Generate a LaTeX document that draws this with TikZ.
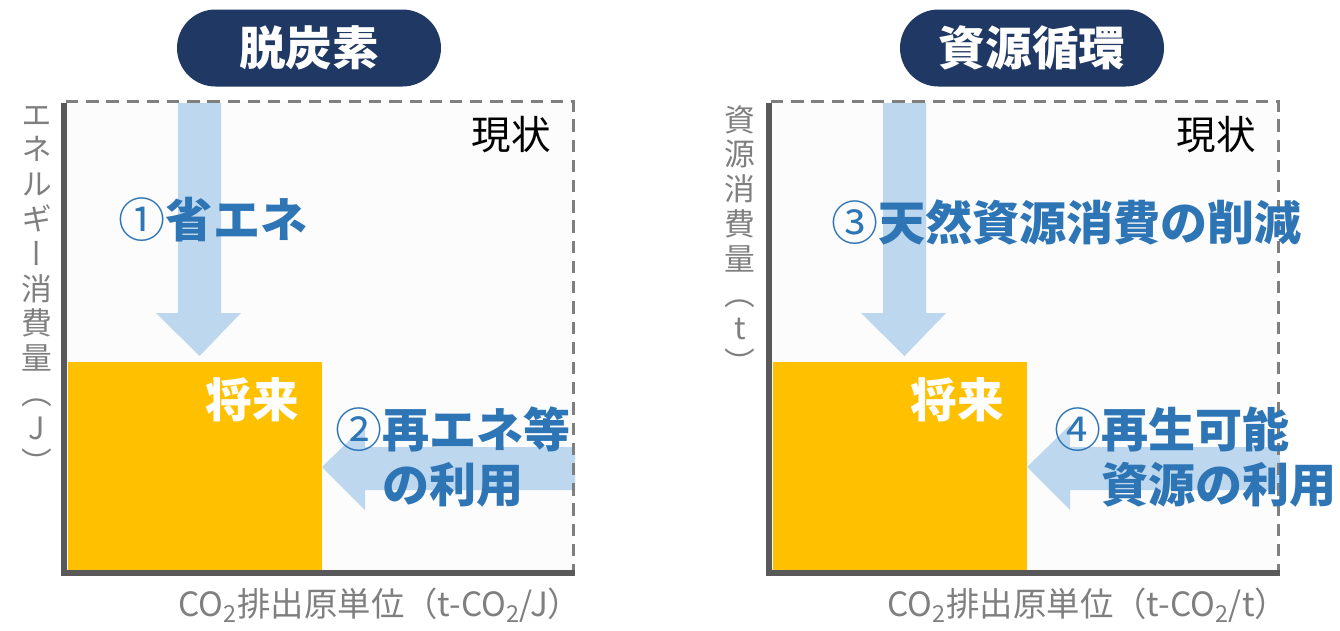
\documentclass[tikz,border=0pt]{standalone}
\usepackage{fontspec}
\setmainfont{Noto Sans CJK JP}
\newfontfamily\vjp{Noto Sans CJK JP}[RawFeature=+vert]
\usetikzlibrary{positioning}
\definecolor{navy}{HTML}{203864}
\definecolor{gold}{HTML}{FFC000}
\definecolor{pale}{HTML}{BDD7EE}
\definecolor{deep}{HTML}{2E75B6}
\definecolor{axisgray}{HTML}{595959}
\definecolor{lblgray}{HTML}{7F7F7F}
\newcommand{\circnum}[1]{{\mdseries #1}}

\begin{document}
\begin{tikzpicture}[
  pill/.style={fill=navy,text=white,rounded corners=7.7mm,minimum width=5.28cm,minimum height=1.54cm,
    font=\bfseries\fontsize{26.5}{30}\selectfont},
  bigblue/.style={text=deep,font=\bfseries\fontsize{26.8}{31}\selectfont,inner sep=0pt},
  future/.style={text=white,font=\bfseries\fontsize{26.5}{30}\selectfont},
  now/.style={font=\fontsize{22.5}{26}\selectfont},
  ylbl/.style={text=lblgray,align=center,inner sep=0pt,font=\vjp\fontsize{17.5}{19.8}\selectfont},
  xlbl/.style={text=lblgray,font=\fontsize{19}{22}\selectfont},
  plotaxis/.style={axisgray,line width=3pt},
  frame/.style={lblgray,line width=1.7pt,dash pattern=on 7pt off 4.5pt}
]
\useasboundingbox (0,0) rectangle (26.8,-12.6);

% left: decarbonisation
\fill[black!1] (1.3,-2.02) rectangle (11.46,-11.46);
\fill[gold] (1.36,-7.24) rectangle (6.44,-11.4);
\fill[pale] (3.56,-2.06) -- (4.42,-2.06) -- (4.42,-6.26) -- (4.82,-6.26) -- (3.99,-7.12)
  -- (3.12,-6.26) -- (3.56,-6.26) -- cycle;
\fill[pale] (11.5,-8.94) -- (7.3,-8.94) -- (7.3,-8.5) -- (6.44,-9.34) -- (7.3,-10.2)
  -- (7.3,-9.8) -- (11.5,-9.8) -- cycle;
\draw[frame] (1.32,-2.02) -- (11.46,-2.02) -- (11.46,-11.4);
\draw[plotaxis] (1.28,-2.06) -- (1.28,-11.46) -- (11.5,-11.46);

\node[pill] (dc) at (6.18,-0.96) {脱炭素};
\node[now] (nowa) at (10.22,-2.7) {現状};
\node[bigblue] (save) at (4.26,-4.4) {\circnum{①}省エネ};
\node[future] (futa) at (5.04,-8.0) {将来};
\node[bigblue,align=center] (renew) at (9.06,-9.14) {\circnum{②}再エネ等\\の利用};
\node[ylbl] (ya) at (0.74,-5.8) {エ\\ネ\\ル\\ギ\\ー\\消\\費\\量\\（\\J\\）};
\node[xlbl] (xa) at (7.6,-12.1) {CO\textsubscript{2}排出原単位（t-CO\textsubscript{2}/J）};

% right: resource circulation
\begin{scope}[xshift=14.1cm]
\fill[black!1] (1.3,-2.02) rectangle (11.46,-11.46);
\fill[gold] (1.36,-7.24) rectangle (6.44,-11.4);
\fill[pale] (3.56,-2.06) -- (4.42,-2.06) -- (4.42,-6.26) -- (4.82,-6.26) -- (3.99,-7.12)
  -- (3.12,-6.26) -- (3.56,-6.26) -- cycle;
\fill[pale] (11.5,-8.94) -- (7.3,-8.94) -- (7.3,-8.5) -- (6.44,-9.34) -- (7.3,-10.2)
  -- (7.3,-9.8) -- (11.5,-9.8) -- cycle;
\draw[frame] (1.32,-2.02) -- (11.46,-2.02) -- (11.46,-11.4);
\draw[plotaxis] (1.28,-2.06) -- (1.28,-11.46) -- (11.5,-11.46);

\node[pill] (rc) at (6.54,-0.96) {資源循環};
\node[now] (nowb) at (10.22,-2.7) {現状};
\node[bigblue] (cut) at (7.23,-4.44) {\circnum{③}天然資源消費の削減};
\node[future] (futb) at (5.04,-8.0) {将来};
\node[bigblue,align=left,anchor=west] (reuse) at (6.98,-9.14) {\circnum{④}再生可能\\\hspace*{1em}資源の利用};
\node[ylbl] (yb) at (0.7,-4.8) {資\\源\\消\\費\\量\\（\\t\\）};
\node[xlbl] (xb) at (7.66,-12.1) {CO\textsubscript{2}排出原単位（t-CO\textsubscript{2}/t）};
\end{scope}
\end{tikzpicture}
\end{document}
